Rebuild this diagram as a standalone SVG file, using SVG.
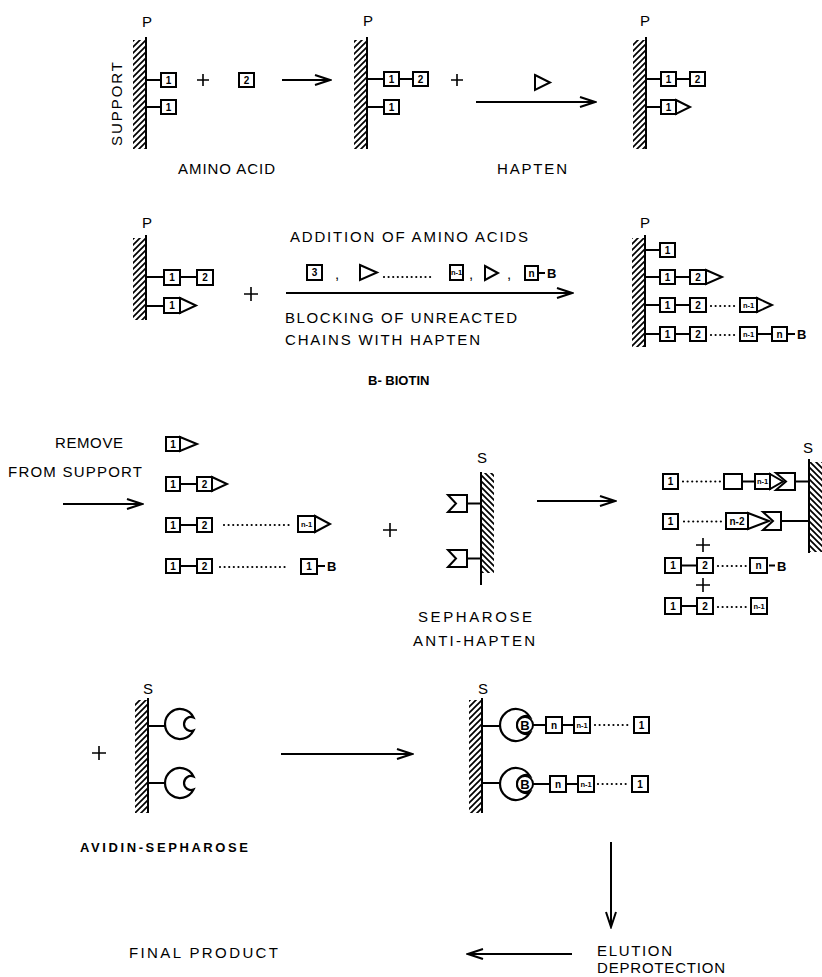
<svg xmlns="http://www.w3.org/2000/svg" width="822" height="977" viewBox="0 0 822 977">
<style>
.ln{stroke:#000;stroke-width:2;fill:none}
.ar{stroke:#000;stroke-width:2;fill:none;marker-end:url(#ah)}
.bx{fill:#fff;stroke:#000;stroke-width:2}
.dt{stroke:#000;stroke-width:2.2;stroke-linecap:round;stroke-dasharray:0.01 4.6;fill:none}
.pl{stroke:#000;stroke-width:1.6;fill:none}
.t{font-family:"Liberation Sans",Arial,sans-serif;font-size:15px;fill:#000}
.tb{font-family:"Liberation Sans",Arial,sans-serif;font-size:13px;font-weight:bold;fill:#000}
.b{font-family:"Liberation Sans",Arial,sans-serif;font-size:10px;font-weight:bold;text-anchor:middle;fill:#000}
.bs{font-family:"Liberation Sans",Arial,sans-serif;font-size:7.5px;font-weight:bold;text-anchor:middle;fill:#000}
</style>
<defs>
<pattern id="hl" width="6" height="6" patternUnits="userSpaceOnUse"><path d="M0,6 L6,0 M-1,1 L1,-1 M5,7 L7,5" stroke="#000" stroke-width="1.7"/></pattern>
<pattern id="hr" width="6" height="6" patternUnits="userSpaceOnUse"><path d="M0,0 L6,6 M-1,5 L1,7 M5,-1 L7,1" stroke="#000" stroke-width="1.7"/></pattern>
<marker id="ah" markerWidth="18" markerHeight="12" refX="16" refY="6" orient="auto" markerUnits="userSpaceOnUse"><path d="M1,1 L16,6 L1,11" fill="none" stroke="#000" stroke-width="2"/></marker>
<path id="av" d="M13.5,-6.54 A15,15 0 1,0 13.5,6.54 A7,7 0 1,1 13.5,-6.54 Z" fill="#fff" stroke="#000" stroke-width="2.2"/>
<path id="avb" d="M13.75,-8.2 A16,16 0 1,0 13.75,8.2 A9,9 0 1,1 13.75,-8.2 Z" fill="#fff" stroke="#000" stroke-width="2.2"/>
</defs>
<rect width="822" height="977" fill="#fff"/>

<g id="connectors">
<line class="ar" x1="282" y1="80" x2="330" y2="80"/>
<line class="ar" x1="476" y1="102" x2="595" y2="102"/>
<line class="ar" x1="286" y1="293" x2="572" y2="293"/>
<line class="ar" x1="63" y1="504" x2="142" y2="504"/>
<line class="ar" x1="537" y1="501" x2="615" y2="501"/>
<line class="ar" x1="281" y1="754" x2="412" y2="754"/>
<line class="ar" x1="611" y1="842" x2="611" y2="927"/>
<line class="ar" x1="572" y1="954" x2="468" y2="954"/>
</g>

<g id="p1">
<rect x="133" y="40" width="13" height="109" fill="url(#hl)"/>
<line class="ln" x1="146" y1="37" x2="146" y2="149"/>
<text class="t" x="142" y="27">P</text>
<text class="t" transform="translate(122,104) rotate(-90)" text-anchor="middle" font-size="16" textLength="84">SUPPORT</text>
<path class="ln" d="M146,80 H161 M146,107 H161"/>
<rect class="bx" x="161" y="73" width="15" height="14"/><text class="b" x="168.5" y="83.5">1</text>
<rect class="bx" x="161" y="100" width="15" height="14"/><text class="b" x="168.5" y="110.5">1</text>
<path class="pl" d="M197,80 H209 M203,74 V86"/>
<rect class="bx" x="239" y="73" width="15" height="14"/><text class="b" x="246.5" y="83.5">2</text>
<text class="t" x="178" y="174" textLength="97">AMINO ACID</text>
</g>

<g id="p2">
<rect x="354" y="40" width="13" height="109" fill="url(#hl)"/>
<line class="ln" x1="367" y1="37" x2="367" y2="149"/>
<text class="t" x="363" y="26">P</text>
<path class="ln" d="M367,79 H384 M399,79 H413 M367,107 H384"/>
<rect class="bx" x="384" y="72" width="15" height="14"/><text class="b" x="391.5" y="82.5">1</text>
<rect class="bx" x="413" y="72" width="15" height="14"/><text class="b" x="420.5" y="82.5">2</text>
<rect class="bx" x="384" y="100" width="15" height="14"/><text class="b" x="391.5" y="110.5">1</text>
<path class="pl" d="M451,80 H463 M457,74 V86"/>
<polygon class="bx" points="535,75 550,82.5 535,90"/>
<text class="t" x="497" y="174" textLength="70">HAPTEN</text>
</g>

<g id="p3">
<rect x="633" y="40" width="13" height="109" fill="url(#hl)"/>
<line class="ln" x1="646" y1="37" x2="646" y2="149"/>
<text class="t" x="640" y="26">P</text>
<path class="ln" d="M646,79 H661 M676,79 H690 M646,107 H661"/>
<rect class="bx" x="661" y="72" width="15" height="14"/><text class="b" x="668.5" y="82.5">1</text>
<rect class="bx" x="690" y="72" width="15" height="14"/><text class="b" x="697.5" y="82.5">2</text>
<polygon class="bx" points="676,100 690,107 676,114"/>
<rect class="bx" x="661" y="100" width="15" height="14"/><text class="b" x="668.5" y="110.5">1</text>
</g>

<g id="p4">
<rect x="133" y="238" width="13" height="82" fill="url(#hl)"/>
<line class="ln" x1="146" y1="235" x2="146" y2="320"/>
<text class="t" x="142" y="228">P</text>
<path class="ln" d="M146,277 H164 M180,277 H197 M146,306 H164"/>
<rect class="bx" x="164" y="270" width="16" height="15"/><text class="b" x="172" y="281">1</text>
<rect class="bx" x="197" y="270" width="16" height="15"/><text class="b" x="205" y="281">2</text>
<polygon class="bx" points="180,298 196,305.5 180,313"/>
<rect class="bx" x="164" y="298" width="16" height="15"/><text class="b" x="172" y="309">1</text>
<path class="pl" d="M244,294 H258 M251,287 V301"/>
</g>

<g id="reagents">
<text class="t" x="290" y="242" textLength="238">ADDITION OF AMINO ACIDS</text>
<rect class="bx" x="307" y="265" width="15" height="15"/><text class="b" x="314.5" y="276">3</text>
<text class="t" x="335" y="279">,</text>
<polygon class="bx" points="360,265 377,272.5 360,280"/>
<line class="dt" x1="384" y1="277" x2="432" y2="277"/>
<rect class="bx" x="450" y="265" width="13" height="15"/><text class="bs" x="456.5" y="275">n-1</text>
<text class="t" x="469" y="279">,</text>
<polygon class="bx" points="485,266 498,273 485,280"/>
<text class="t" x="507" y="279">,</text>
<rect class="bx" x="525" y="266" width="13" height="14"/><text class="b" x="531.5" y="276.5">n</text>
<line class="ln" x1="538" y1="273" x2="545" y2="273"/>
<text class="tb" x="547" y="278" font-size="11">B</text>
<text class="t" x="285" y="323" textLength="232">BLOCKING OF UNREACTED</text>
<text class="t" x="285" y="345" textLength="195">CHAINS WITH HAPTEN</text>
<text class="tb" x="368" y="385">B- BIOTIN</text>
</g>

<g id="p5">
<rect x="632" y="238" width="13" height="109" fill="url(#hl)"/>
<line class="ln" x1="645" y1="235" x2="645" y2="347"/>
<text class="t" x="640" y="228">P</text>
<path class="ln" d="M645,250 H660 M645,277 H660 M675,277 H690 M645,305 H660 M675,305 H690 M645,334 H660 M675,334 H690 M757,334 H772 M788,334 H795"/>
<rect class="bx" x="660" y="243" width="15" height="14"/><text class="b" x="667.5" y="253.5">1</text>
<rect class="bx" x="660" y="270" width="15" height="14"/><text class="b" x="667.5" y="280.5">1</text>
<polygon class="bx" points="706,270 722,277 706,284"/>
<rect class="bx" x="690" y="270" width="16" height="14"/><text class="b" x="698" y="280.5">2</text>
<rect class="bx" x="660" y="298" width="15" height="14"/><text class="b" x="667.5" y="308.5">1</text>
<rect class="bx" x="690" y="298" width="16" height="14"/><text class="b" x="698" y="308.5">2</text>
<line class="dt" x1="711" y1="306" x2="737" y2="306"/>
<polygon class="bx" points="757,298 772,305 757,312"/>
<rect class="bx" x="740" y="298" width="17" height="14"/><text class="bs" x="748.5" y="307.5">n-1</text>
<rect class="bx" x="660" y="327" width="15" height="14"/><text class="b" x="667.5" y="337.5">1</text>
<rect class="bx" x="690" y="327" width="16" height="14"/><text class="b" x="698" y="337.5">2</text>
<line class="dt" x1="711" y1="335" x2="737" y2="335"/>
<rect class="bx" x="740" y="327" width="17" height="14"/><text class="bs" x="748.5" y="336.5">n-1</text>
<rect class="bx" x="772" y="327" width="15" height="14"/><text class="b" x="779.5" y="337.5">n</text>
<text class="tb" x="797" y="339" font-size="12">B</text>
</g>

<g id="remove">
<text class="t" x="55" y="448" textLength="68">REMOVE</text>
<text class="t" x="8" y="477" textLength="134">FROM SUPPORT</text>
</g>

<g id="products">
<polygon class="bx" points="180,437 197,444 180,451"/>
<rect class="bx" x="166" y="437" width="14" height="14"/><text class="b" x="173" y="447.5">1</text>
<path class="ln" d="M180,484 H197 M180,525 H197 M180,566 H197 M317,566 H325"/>
<rect class="bx" x="166" y="477" width="14" height="14"/><text class="b" x="173" y="487.5">1</text>
<polygon class="bx" points="212,477 227,484 212,491"/>
<rect class="bx" x="197" y="477" width="15" height="14"/><text class="b" x="204.5" y="487.5">2</text>
<rect class="bx" x="166" y="518" width="14" height="14"/><text class="b" x="173" y="528.5">1</text>
<rect class="bx" x="197" y="518" width="15" height="14"/><text class="b" x="204.5" y="528.5">2</text>
<line class="dt" x1="224" y1="525" x2="292" y2="525"/>
<polygon class="bx" points="315,516 330,524 315,532"/>
<rect class="bx" x="298" y="516" width="17" height="16"/><text class="bs" x="306.5" y="527">n-1</text>
<rect class="bx" x="166" y="559" width="14" height="14"/><text class="b" x="173" y="569.5">1</text>
<rect class="bx" x="197" y="559" width="15" height="14"/><text class="b" x="204.5" y="569.5">2</text>
<line class="dt" x1="220" y1="567" x2="288" y2="567"/>
<rect class="bx" x="301" y="559" width="16" height="15"/><text class="b" x="309" y="570">1</text>
<text class="tb" x="327" y="571" font-size="12">B</text>
<path class="pl" d="M383,530 H397 M390,523 V537"/>
</g>

<g id="sepharose">
<rect x="481" y="473" width="13" height="100" fill="url(#hr)"/>
<line class="ln" x1="481" y1="472" x2="481" y2="585"/>
<text class="t" x="477" y="463">S</text>
<path class="ln" d="M467,503.5 H481 M467,558.5 H481"/>
<path class="bx" d="M448,495 H467 V512 H448 L456,503.5 Z"/>
<path class="bx" d="M448,550 H467 V567 H448 L456,558.5 Z"/>
<text class="t" x="418" y="622" textLength="114">SEPHAROSE</text>
<text class="t" x="413" y="646" textLength="122">ANTI-HAPTEN</text>
</g>

<g id="bound">
<rect x="809" y="462" width="13" height="90" fill="url(#hr)"/>
<line class="ln" x1="809" y1="459" x2="809" y2="553"/>
<text class="t" x="803" y="453">S</text>
<path class="ln" d="M742,481.5 H755 M795,481.5 H809 M781,521 H809 M681,565.5 H697 M769,565.5 H775 M681,606 H697"/>
<rect class="bx" x="663" y="474" width="15" height="15"/><text class="b" x="670.5" y="485">1</text>
<line class="dt" x1="683" y1="481.5" x2="721" y2="481.5"/>
<rect class="bx" x="724" y="474" width="18" height="15"/>
<path class="bx" d="M776,473 H795 V490 H776 L786,481.5 Z"/>
<polygon class="bx" points="770,474 783,481.5 770,489"/>
<rect class="bx" x="755" y="474" width="15" height="15"/><text class="bs" x="762.5" y="484">n-1</text>
<rect class="bx" x="663" y="514" width="15" height="15"/><text class="b" x="670.5" y="525">1</text>
<line class="dt" x1="684" y1="521.5" x2="723" y2="521.5"/>
<path class="bx" d="M763,512 H781 V530 H763 L773,521 Z"/>
<polygon class="bx" points="748,513 769,521 748,529"/>
<rect class="bx" x="726" y="513" width="22" height="16"/><text class="b" x="737" y="525" font-size="9">n-2</text>
<path class="pl" d="M696,545 H710 M703,538 V552"/>
<rect class="bx" x="665" y="558" width="16" height="15"/><text class="b" x="673" y="569">1</text>
<rect class="bx" x="697" y="558" width="16" height="15"/><text class="b" x="705" y="569">2</text>
<line class="dt" x1="718" y1="566" x2="746" y2="566"/>
<rect class="bx" x="750" y="558" width="17" height="15"/><text class="b" x="758.5" y="569">n</text>
<text class="tb" x="777" y="571" font-size="12">B</text>
<path class="pl" d="M696,585 H710 M703,578 V592"/>
<rect class="bx" x="665" y="598" width="16" height="16"/><text class="b" x="673" y="609.5">1</text>
<rect class="bx" x="697" y="598" width="16" height="16"/><text class="b" x="705" y="609.5">2</text>
<line class="dt" x1="718" y1="607" x2="747" y2="607"/>
<rect class="bx" x="751" y="598" width="16" height="16"/><text class="bs" x="759" y="608.5">n-1</text>
</g>

<g id="avidin">
<path class="pl" d="M92,753 H106 M99,746 V760"/>
<rect x="135" y="700" width="13" height="113" fill="url(#hl)"/>
<line class="ln" x1="148" y1="698" x2="148" y2="813"/>
<text class="t" x="143" y="694">S</text>
<path class="ln" d="M148,726 H166 M148,783 H166"/>
<use href="#av" x="180" y="724"/>
<use href="#av" x="180" y="783"/>
<text class="tb" x="80" y="852" textLength="168">AVIDIN-SEPHAROSE</text>
</g>

<g id="complex">
<rect x="469" y="700" width="13" height="113" fill="url(#hl)"/>
<line class="ln" x1="482" y1="698" x2="482" y2="813"/>
<text class="t" x="478" y="694">S</text>
<path class="ln" d="M482,726 H500 M482,783 H500 M533,725 H546 M562,725 H574 M533,784 H550 M566,784 H578"/>
<use href="#avb" x="516" y="725"/>
<circle cx="525" cy="725" r="8" fill="#fff" stroke="#000" stroke-width="2"/>
<text class="tb" x="525" y="730" text-anchor="middle">B</text>
<rect class="bx" x="546" y="717" width="16" height="16"/><text class="b" x="554" y="728.5">n</text>
<rect class="bx" x="574" y="717" width="16" height="16"/><text class="bs" x="582" y="727.5">n-1</text>
<line class="dt" x1="595" y1="725" x2="630" y2="725"/>
<rect class="bx" x="634" y="717" width="15" height="16"/><text class="b" x="641.5" y="728.5">1</text>
<use href="#avb" x="516" y="784"/>
<circle cx="525" cy="784" r="8" fill="#fff" stroke="#000" stroke-width="2"/>
<text class="tb" x="525" y="789" text-anchor="middle">B</text>
<rect class="bx" x="550" y="776" width="16" height="16"/><text class="b" x="558" y="787.5">n</text>
<rect class="bx" x="578" y="776" width="16" height="16"/><text class="bs" x="586" y="786.5">n-1</text>
<line class="dt" x1="598" y1="784" x2="629" y2="784"/>
<rect class="bx" x="632" y="776" width="16" height="16"/><text class="b" x="640" y="787.5">1</text>
</g>

<g id="final">
<text class="t" x="597" y="956" textLength="75">ELUTION</text>
<text class="t" x="597" y="973" textLength="128">DEPROTECTION</text>
<text class="t" x="129" y="958" textLength="149">FINAL PRODUCT</text>
</g>
</svg>
